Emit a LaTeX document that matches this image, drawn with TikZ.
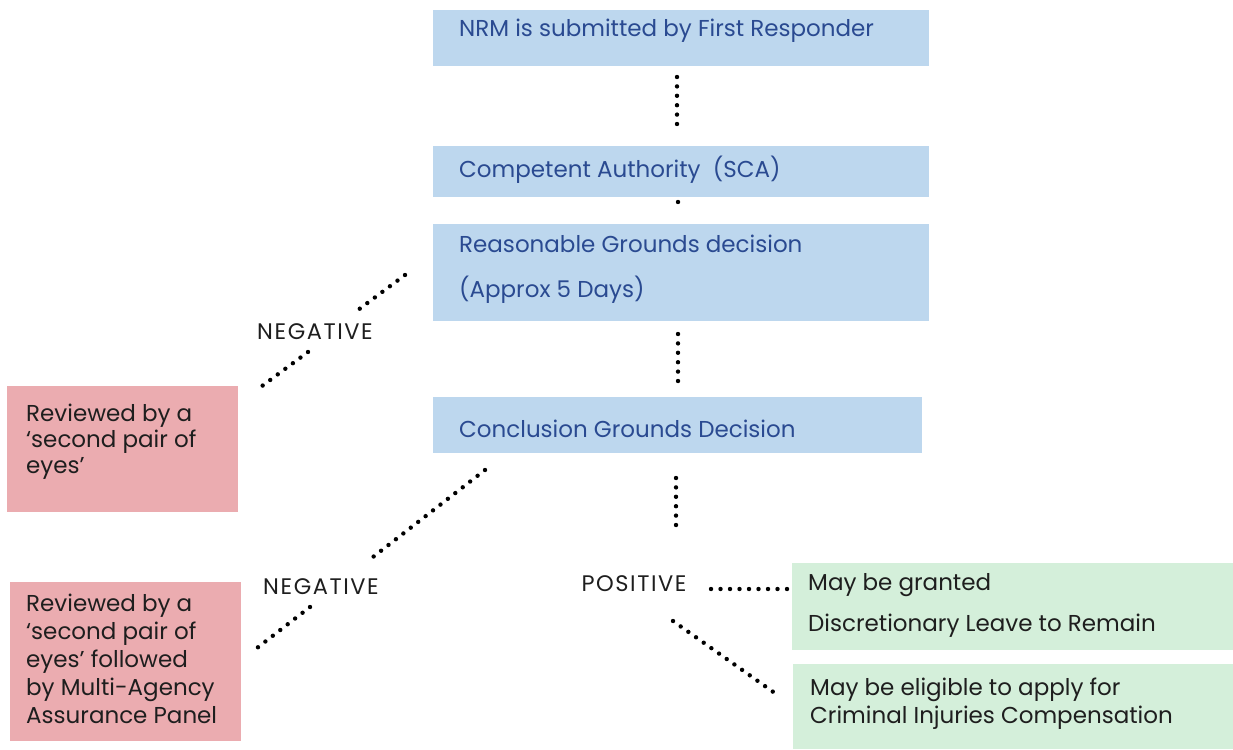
\documentclass[tikz,border=0pt]{standalone}
\usepackage{fontspec}
\setmainfont{Poppins}
\definecolor{boxblue}{RGB}{189,215,238}
\definecolor{boxpink}{RGB}{235,172,176}
\definecolor{boxgreen}{RGB}{212,239,218}
\definecolor{txtblue}{RGB}{42,74,145}
\definecolor{txtdark}{RGB}{30,30,30}
\begin{document}
\begin{tikzpicture}[x=1pt,y=-1pt,
  bluebox/.style={draw=none,fill=boxblue,anchor=north west,inner sep=0pt},
  pinkbox/.style={draw=none,fill=boxpink,anchor=north west,inner sep=0pt},
  greenbox/.style={draw=none,fill=boxgreen,anchor=north west,inner sep=0pt},
  btext/.style={anchor=west,inner sep=0pt,text=txtblue,font=\fontsize{23}{26}\selectfont},
  gtext/.style={anchor=west,inner sep=0pt,text=txtdark,font=\fontsize{23}{26}\selectfont},
  ptext/.style={anchor=north west,inner sep=0pt,text=txtdark,align=left,font=\fontsize{23}{26}\selectfont},
  lbl/.style={inner sep=0pt,text=txtdark,font=\fontsize{22.5}{24}\selectfont\addfontfeature{LetterSpace=7}},
  dotline/.style={line width=4.4pt,line cap=round,dash pattern=on 0pt off 9.4pt,draw=black}
]
\useasboundingbox (0,0) rectangle (1233,749);

% blue boxes
\node[bluebox,minimum width=496,minimum height=56] (nrm) at (433,10) {};
\node[btext] (nrmt) at (459,31) {NRM is submitted by First Responder};
\node[bluebox,minimum width=496,minimum height=51] (sca) at (433,146) {};
\node[btext] (scat) at (459,170) {Competent Authority~~(SCA)};
\node[bluebox,minimum width=496,minimum height=97] (rg) at (433,224) {};
\node[btext] (rgt1) at (459,244) {Reasonable Grounds decision};
\node[btext] (rgt2) at (459,290) {(Approx 5 Days)};
\node[bluebox,minimum width=489,minimum height=56] (cg) at (433,397) {};
\node[btext] (cgt) at (459,429) {Conclusion Grounds Decision};

% pink boxes
\node[pinkbox,minimum width=231,minimum height=126] (p1) at (7,386) {};
\node[ptext] (p1t) at (26,404) {Reviewed by a\\‘second pair of\\eyes’};
\node[pinkbox,minimum width=231,minimum height=159] (p2) at (10,582) {};
\node[ptext,font=\fontsize{23}{28}\selectfont] (p2t) at (26,594) {Reviewed by a\\‘second pair of\\eyes’ followed\\by Multi-Agency\\Assurance Panel};

% green boxes
\node[greenbox,minimum width=441,minimum height=87] (g1) at (792,563) {};
\node[gtext] (g1a) at (808,585) {May be granted};
\node[gtext] (g1b) at (808,626) {Discretionary Leave to Remain};
\node[greenbox,minimum width=440,minimum height=85] (g2) at (793,664) {};
\node[ptext,font=\fontsize{23}{28}\selectfont] (g2t) at (810,678) {May be eligible to apply for\\Criminal Injuries Compensation};

% labels
\node[lbl] (neg1) at (315,332) {NEGATIVE};
\node[lbl] (neg2) at (321,587) {NEGATIVE};
\node[lbl] (pos) at (634,584) {POSITIVE};

% connector end points
\coordinate (a1) at (677,77);  \coordinate (a2) at (677,128);
\coordinate (b1) at (678,202); \coordinate (b2) at (678,215);
\coordinate (c1) at (678,334); \coordinate (c2) at (678,382);
\coordinate (d1) at (676,478); \coordinate (d2) at (676,530);
\coordinate (n1a) at (405,275); \coordinate (n1b) at (358,310);
\coordinate (n1c) at (308,352); \coordinate (n1d) at (258,389);
\coordinate (n2a) at (485,470); \coordinate (n2b) at (373,557);
\coordinate (n2c) at (310,607); \coordinate (n2d) at (257,648);
\coordinate (e1) at (711,589); \coordinate (e2) at (787,589);
\coordinate (f1) at (673,621); \coordinate (f2) at (779,696);

\draw[dotline] (a1) -- (a2);
\draw[dotline,dash pattern=on 0pt off 13pt] (b1) -- (b2);
\draw[dotline] (c1) -- (c2);
\draw[dotline] (d1) -- (d2);
\draw[dotline] (n1a) -- (n1b);
\draw[dotline] (n1c) -- (n1d);
\draw[dotline] (n2a) -- (n2b);
\draw[dotline] (n2c) -- (n2d);
\draw[dotline,dash pattern=on 0pt off 9.5pt] (e1) -- (e2);
\draw[dotline] (f1) -- (f2);
\end{tikzpicture}
\end{document}
